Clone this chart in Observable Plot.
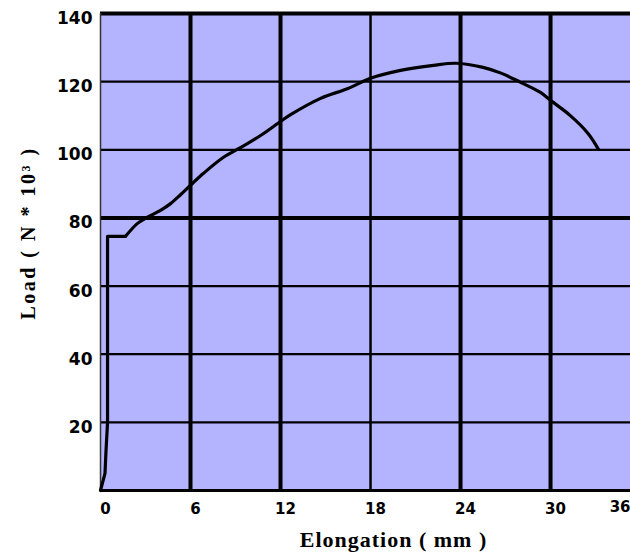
<!DOCTYPE html>
<html><head><meta charset="utf-8">
<script src="https://cdn.jsdelivr.net/npm/d3@7"></script>
<script src="https://cdn.jsdelivr.net/npm/@observablehq/plot@0.6"></script>
<style>html,body{margin:0;padding:0;background:#fff;overflow:hidden}</style>
</head><body><div id="chart"></div>
<script>
// Load vs elongation
const elongation = [0, 0.12, 0.3, 0.36, 0.47, 0.47, 1.0, 1.67, 2.47, 3.13, 4.0, 4.67, 5.33, 6, 6.87, 8.2, 9.33, 10.67, 12, 12.67, 14.67, 16.5, 18, 20, 22.2, 23.7, 25.5, 26.7, 28, 29.3, 30, 31.3, 32.5, 33.2];
const load =       [0, 2,    5,   11,   20,   74.6, 74.6, 74.6, 78.4, 80.2, 82.2, 84.2, 86.8, 89.6, 93.1, 97.8, 100.6, 104.2, 108.3, 110.3, 115.1, 118, 121, 123.3, 124.8, 125.4, 124.2, 122.5, 119.8, 116.9, 114.5, 110.1, 104.8, 100.1];
const xTicks = [0, 6, 12, 18, 24, 30];
const xLastTickLabel = "36";
const yTicks = [20, 40, 60, 80, 100, 120, 140];
const xMax = 35.33;
const yMax = 140;
const xTitle = "Elongation ( mm )";
const yTitle = "Load ( N * 10³ )";

const curve = elongation.map((e, i) => ({e, l: load[i], i}));
const plateauEnd = 7; // index where the yield plateau ends
const elastic = curve.filter(d => d.i <= plateauEnd);
const plastic = curve.filter(d => d.i >= plateauEnd);
const thickX = new Set([6, 12, 24, 30]);
const thickY = new Set([80]);
const font = "'Liberation Serif', serif";
const tickFont = "'DejaVu Sans', sans-serif";

const chart = Plot.plot({
  width: 630, height: 559,
  marginTop: 13, marginBottom: 69, marginLeft: 100, marginRight: 0,
  x: {domain: [0, xMax], axis: null, label: null},
  y: {domain: [0, yMax], axis: null, label: null},
  style: {background: "#fff", overflow: "visible"},
  marks: [
    Plot.frame({fill: "#b3b3fe", stroke: null}),
    Plot.ruleX(xTicks.filter(d => d > 0), {x: d => d, stroke: "#000", strokeWidth: d => thickX.has(d) ? 4 : 2.5}),
    Plot.ruleY(yTicks.filter(d => d < yMax), {y: d => d, stroke: "#000", strokeWidth: d => thickY.has(d) ? 4 : 2.2}),
    Plot.ruleY([yMax], {stroke: "#000", strokeWidth: 4}),
    Plot.ruleY([0], {stroke: "#000", strokeWidth: 3}),
    Plot.ruleX([0], {stroke: "#333", strokeWidth: 1.5}),
    Plot.line(elastic, {x: "e", y: "l", stroke: "#000", strokeWidth: 3.2, strokeLinejoin: "round"}),
    Plot.line(plastic, {x: "e", y: "l", curve: "catmull-rom", stroke: "#000", strokeWidth: 3.2, strokeLinejoin: "round"}),
    Plot.axisX(xTicks, {label: null, tickSize: 0, tickPadding: 13, dx: 5, fontSize: 15, fontWeight: "bold", fontFamily: tickFont, tickFormat: d => String(d)}),
    Plot.text([xLastTickLabel], {x: xMax, frameAnchor: "bottom", dy: 21, textAnchor: "end", fontSize: 15, fontWeight: "bold", fontFamily: tickFont}),
    Plot.axisY(yTicks, {label: null, tickSize: 0, tickPadding: 8, dy: 5, fontSize: 17, fontWeight: "bold", fontFamily: tickFont, tickFormat: d => String(d)}),
    Plot.text([xTitle], {frameAnchor: "bottom", dx: 28, dy: 56, fontSize: 22, fontWeight: "bold", fontFamily: font}),
    Plot.text([yTitle], {frameAnchor: "left", textAnchor: "middle", dx: -72, dy: -19, rotate: -90, fontSize: 20, fontWeight: "bold", fontFamily: font})
  ]
});
chart.querySelectorAll("text").forEach(t => {
  if (t.textContent === xTitle) t.setAttribute("letter-spacing", "1");
  if (t.textContent === yTitle) t.setAttribute("letter-spacing", "2.5");
});
document.getElementById("chart").appendChild(chart);
</script>
</body></html>
